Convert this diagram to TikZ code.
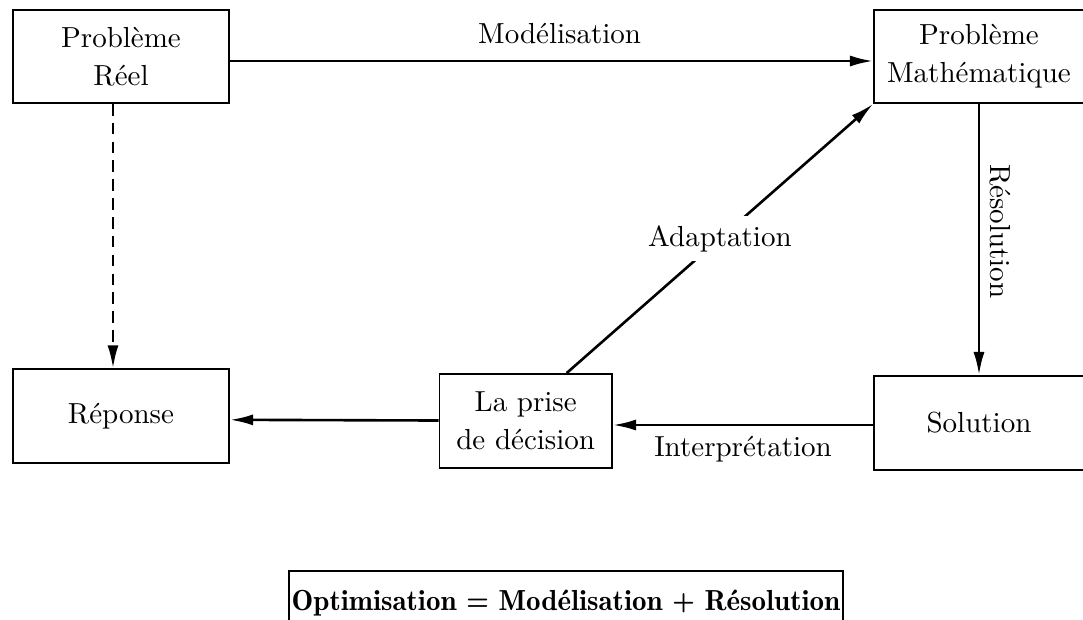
\documentclass[tikz,border=0pt]{standalone}
\usetikzlibrary{arrows.meta,calc}
\begin{document}
\begin{tikzpicture}[x=0.3448pt,y=-0.3448pt,
  box/.style={draw,line width=0.6pt,inner sep=0pt,align=center,font=\fontsize{10}{13}\selectfont},
  arr/.style={line width=0.9pt,-{Latex[length=8pt,width=3.8pt]}},
  lbl/.style={font=\fontsize{10}{12}\selectfont}
]
\path[use as bounding box,clip] (0,0) rectangle (1083,619);
\node[box,minimum width=74.5pt,minimum height=32.1pt] (PR) at (121,56.5) {Problème\\Réel};
\node[box,minimum width=72.4pt,minimum height=32.1pt] (PM) at (979,56.5) {Problème\\Mathématique};
\node[box,minimum width=74.5pt,minimum height=32.4pt] (REP) at (121,416.3) {Réponse};
\node[box,minimum width=59.5pt,minimum height=32.5pt] (DEC) at (525.7,421) {La prise\\de décision};
\node[box,minimum width=72.4pt,minimum height=32.4pt] (SOL) at (979,423) {Solution};
\node[draw,line width=0.8pt,inner xsep=1pt,inner ysep=6.5pt,anchor=north,font=\fontseries{b}\selectfont] (OPT) at (566,570) {Optimisation = Modélisation + Résolution};

\draw[arr] ($(PR.east)+(0,4.5)$) -- node[lbl,midway,above=2.2pt,xshift=2.8pt] {Modélisation} ($(PM.west)+(0,4.5)$);
\draw[arr] (PM.south) -- node[lbl,pos=0.47,anchor=south,rotate=-90] {Résolution} (SOL.north);
\draw[arr] ($(SOL.west)+(0,2)$) -- node[lbl,midway,below=0pt] {Interprétation} ($(DEC.east)+(0,4)$);
\draw[arr] ($(DEC.west)+(0,-0.5)$) -- ($(REP.east)+(0,3.5)$);
\draw[arr] ($(DEC.north)+(41,0)$) -- node[lbl,midway,fill=white] {Adaptation} (PM.south west);
\draw[arr,dash pattern=on 4pt off 2.5pt] ($(PR.south)+(-8,0)$) -- ($(REP.north)+(-8,0)$);
\end{tikzpicture}
\end{document}
